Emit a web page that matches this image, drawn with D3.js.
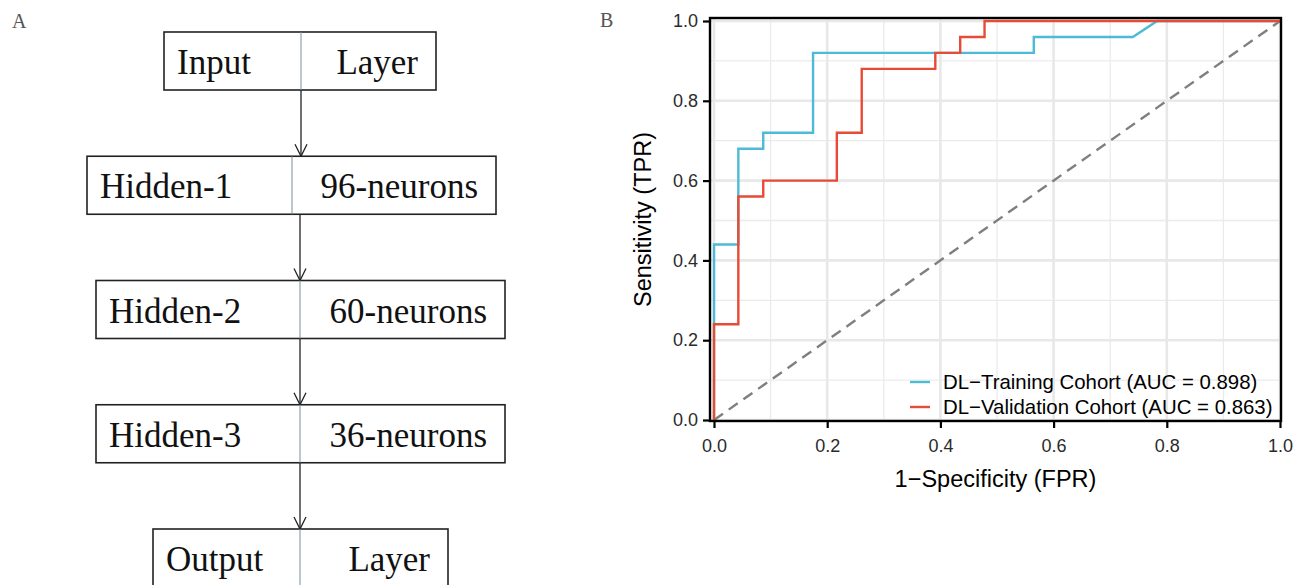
<!DOCTYPE html>
<head>
	<meta charset="utf-8">
	<style>
		body { margin: 0; background: #fff; }
		svg { display: block; }
		.axis text { font: 18px "Liberation Sans", Arial, sans-serif; fill: #2b2b2b; }
		.axis path { display: none; }
		.axis line { stroke: #000; stroke-width: 2.2px; }
		.box-text { font: 35px "Liberation Serif", "Times New Roman", serif; fill: #111; }
		.panel-tag { font: 20px "Liberation Serif", "Times New Roman", serif; fill: #555; }
		.title { font: 23.5px "Liberation Sans", Arial, sans-serif; fill: #000; }
		.legend-text { font: 20.4px "Liberation Sans", Arial, sans-serif; fill: #000; }
	</style>
	<title>Network and ROC</title>
	<script src="https://d3js.org/d3.v7.min.js"></script>
</head>
<body>
<div id="figure"></div>
<script>
	// panel A: network layers
	var layerNames = ["Input", "Hidden-1", "Hidden-2", "Hidden-3", "Output"];
	var layerUnits = ["Layer", "96-neurons", "60-neurons", "36-neurons", "Layer"];

	// panel B: ROC curves (fpr / tpr step points)
	var trainFPR = [0, 0, 0.043, 0.043, 0.087, 0.087, 0.175, 0.175, 0.565, 0.565, 0.740, 0.783, 1];
	var trainTPR = [0, 0.44, 0.44, 0.68, 0.68, 0.72, 0.72, 0.92, 0.92, 0.96, 0.96, 1, 1];
	var validFPR = [0, 0, 0.043, 0.043, 0.087, 0.087, 0.217, 0.217, 0.261, 0.261, 0.391, 0.391, 0.435, 0.435, 0.478, 0.478, 1];
	var validTPR = [0, 0.24, 0.24, 0.56, 0.56, 0.60, 0.60, 0.72, 0.72, 0.88, 0.88, 0.92, 0.92, 0.96, 0.96, 1, 1];
	var seriesNames = ["DL\u2212Training Cohort (AUC = 0.898)", "DL\u2212Validation Cohort (AUC = 0.863)"];
	var seriesColors = ["#4dbbd5", "#e64b35"];
	var tickValues = [0, 0.2, 0.4, 0.6, 0.8, 1.0];

	var svg = d3.select("#figure").append("svg")
		.attr("width", 1296)
		.attr("height", 585);

	// ---------- panel A ----------
	svg.append("text").attr("class", "panel-tag").attr("x", 12).attr("y", 28).text("A");

	var boxLeft = [164, 87, 96, 96, 153],
		boxRight = [436, 496, 505, 505, 448],
		boxSplit = [301, 292, 300, 300, 300],
		boxH = 58,
		arrowX = [301, 300, 300, 300];
	var yBox = d3.scaleLinear().domain([0, layerNames.length - 1]).range([32, 529]);

	var net = svg.append("g");
	// arrows between boxes
	for (var i = 0; i < layerNames.length - 1; i++) {
		var x = arrowX[i], y0 = yBox(i) + boxH, y1 = yBox(i + 1);
		net.append("line").attr("x1", x).attr("x2", x).attr("y1", y0).attr("y2", y1)
			.attr("stroke", "#222").attr("stroke-width", 1.3);
		net.append("path").attr("d", "M" + (x - 6) + "," + (y1 - 12) + "L" + x + "," + y1 + "L" + (x + 6) + "," + (y1 - 12))
			.attr("fill", "none").attr("stroke", "#222").attr("stroke-width", 1.3);
	}
	var boxes = net.selectAll(".layer").data(layerNames).enter().append("g").attr("class", "layer");
	boxes.append("rect")
		.attr("x", function (d, i) { return boxLeft[i]; })
		.attr("y", function (d, i) { return yBox(i); })
		.attr("width", function (d, i) { return boxRight[i] - boxLeft[i]; })
		.attr("height", boxH)
		.attr("fill", "#fff").attr("stroke", "#222").attr("stroke-width", 1.6);
	boxes.append("line")
		.attr("x1", function (d, i) { return boxSplit[i]; })
		.attr("x2", function (d, i) { return boxSplit[i]; })
		.attr("y1", function (d, i) { return yBox(i); })
		.attr("y2", function (d, i) { return yBox(i) + boxH; })
		.attr("stroke", "#7890a0").attr("stroke-width", 1);
	boxes.append("text").attr("class", "box-text")
		.attr("x", function (d, i) { return boxLeft[i] + 13; })
		.attr("y", function (d, i) { return yBox(i) + 42; })
		.text(function (d) { return d; });
	boxes.append("text").attr("class", "box-text")
		.attr("text-anchor", "end")
		.attr("x", function (d, i) { return boxRight[i] - 18; })
		.attr("y", function (d, i) { return yBox(i) + 42; })
		.text(function (d, i) { return layerUnits[i]; });

	// ---------- panel B ----------
	svg.append("text").attr("class", "panel-tag").attr("x", 600).attr("y", 27).text("B");

	var xScale = d3.scaleLinear().domain([0, 1]).range([714, 1280]),
		yScale = d3.scaleLinear().domain([0, 1]).range([420, 21]);
	var panel = { left: 710, right: 1281, top: 18, bottom: 421 };

	var g = svg.append("g");
	var minor = d3.range(0.1, 1, 0.2);
	g.selectAll(".gx-minor").data(minor).enter().append("line")
		.attr("x1", xScale).attr("x2", xScale).attr("y1", panel.top).attr("y2", panel.bottom)
		.attr("stroke", "#ebebeb").attr("stroke-width", 1.3);
	g.selectAll(".gy-minor").data(minor).enter().append("line")
		.attr("y1", yScale).attr("y2", yScale).attr("x1", panel.left).attr("x2", panel.right)
		.attr("stroke", "#ebebeb").attr("stroke-width", 1.3);
	g.selectAll(".gx-major").data(tickValues).enter().append("line")
		.attr("x1", xScale).attr("x2", xScale).attr("y1", panel.top).attr("y2", panel.bottom)
		.attr("stroke", "#e8e8e8").attr("stroke-width", 2.6);
	g.selectAll(".gy-major").data(tickValues).enter().append("line")
		.attr("y1", yScale).attr("y2", yScale).attr("x1", panel.left).attr("x2", panel.right)
		.attr("stroke", "#e8e8e8").attr("stroke-width", 2.6);

	// diagonal reference
	g.append("line")
		.attr("x1", xScale(0)).attr("y1", yScale(0)).attr("x2", xScale(1)).attr("y2", yScale(1))
		.attr("stroke", "#7f7f7f").attr("stroke-width", 2.4).attr("stroke-dasharray", "11,7");

	var line = d3.line().x(function (d) { return xScale(d[0]); }).y(function (d) { return yScale(d[1]); });
	var curves = [d3.zip(trainFPR, trainTPR), d3.zip(validFPR, validTPR)];
	curves.forEach(function (pts, i) {
		g.append("path").attr("d", line(pts))
			.attr("fill", "none").attr("stroke", seriesColors[i]).attr("stroke-width", 2.4);
	});

	// frame
	g.append("rect")
		.attr("x", panel.left).attr("y", panel.top)
		.attr("width", panel.right - panel.left).attr("height", panel.bottom - panel.top)
		.attr("fill", "none").attr("stroke", "#000").attr("stroke-width", 2.4);

	// axes
	svg.append("g").attr("class", "axis")
		.attr("transform", "translate(0," + panel.bottom + ")")
		.call(d3.axisBottom(xScale).tickValues(tickValues).tickFormat(d3.format(".1f")).tickSize(7).tickPadding(11));
	svg.append("g").attr("class", "axis")
		.attr("transform", "translate(" + panel.left + ",0)")
		.call(d3.axisLeft(yScale).tickValues(tickValues).tickFormat(d3.format(".1f")).tickSize(7).tickPadding(5));

	svg.append("text").attr("class", "title")
		.attr("x", (panel.left + panel.right) / 2).attr("y", 487)
		.style("text-anchor", "middle")
		.text("1\u2212Specificity (FPR)");
	svg.append("text").attr("class", "title")
		.attr("transform", "translate(651," + ((panel.top + panel.bottom) / 2) + ") rotate(-90)")
		.style("text-anchor", "middle")
		.text("Sensitivity (TPR)");

	// legend
	var legend = svg.append("g").attr("transform", "translate(910,382)");
	seriesNames.forEach(function (name, i) {
		legend.append("line").attr("x1", 0).attr("x2", 20).attr("y1", i * 25).attr("y2", i * 25)
			.attr("stroke", seriesColors[i]).attr("stroke-width", 2.4);
		legend.append("text").attr("class", "legend-text").attr("x", 33).attr("y", i * 25 + 7)
			.text(name);
	});
</script>
</body>
